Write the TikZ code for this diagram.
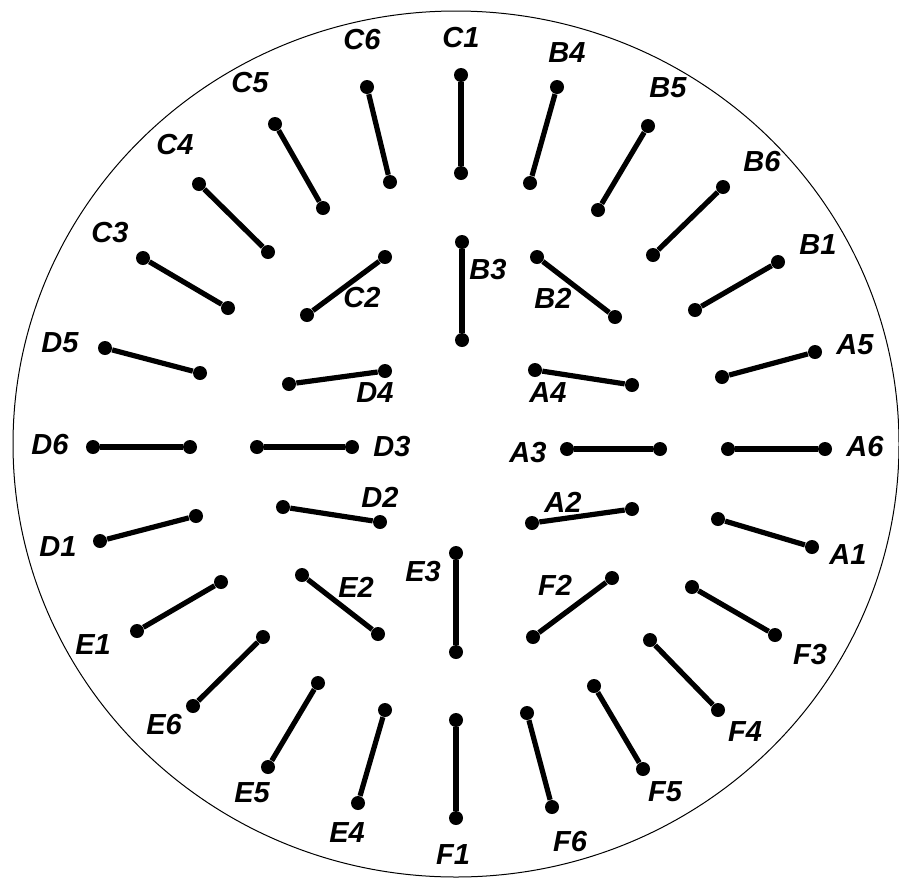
\documentclass[tikz,border=0pt]{standalone}
\usepackage{fontspec}
\setmainfont{Liberation Sans}
\usepackage{tikz}

\begin{document}
\begin{tikzpicture}[
    x=0.5pt,
    y=-0.5pt,
    dot/.style={
        circle,
        fill=black,
        inner sep=0pt,
        minimum size=7pt
    },
    bar/.style={
        line width=2.6pt
    },
    lab/.style={
        font=\fontsize{14.5}{17}\selectfont\bfseries\itshape,
        inner sep=1pt
    }
]

\useasboundingbox (0,0) rectangle (899,879);

\draw[line width=0.5pt] (456,444) ellipse [x radius=443, y radius=433];


% outer ring, top half
\node[dot] (C1a) at (461,75) {};  \node[dot] (C1b) at (461,173) {};
\node[dot] (B4a) at (557,87) {};  \node[dot] (B4b) at (530,183) {};
\node[dot] (B5a) at (648,126) {}; \node[dot] (B5b) at (598,210) {};
\node[dot] (B6a) at (723,187) {}; \node[dot] (B6b) at (653,255) {};
\node[dot] (B1a) at (778,262) {}; \node[dot] (B1b) at (695,310) {};
\node[dot] (A5a) at (815,352) {}; \node[dot] (A5b) at (722,377) {};
\node[dot] (A6a) at (728,449) {}; \node[dot] (A6b) at (825,449) {};
\node[dot] (C6a) at (367,87) {};  \node[dot] (C6b) at (390,182) {};
\node[dot] (C5a) at (275,124) {}; \node[dot] (C5b) at (323,208) {};
\node[dot] (C4a) at (199,184) {}; \node[dot] (C4b) at (268,252) {};
\node[dot] (C3a) at (143,258) {}; \node[dot] (C3b) at (228,308) {};
\node[dot] (D5a) at (105,348) {}; \node[dot] (D5b) at (200,373) {};
\node[dot] (D6a) at (93,447) {};  \node[dot] (D6b) at (190,447) {};

% outer ring, bottom half
\node[dot] (D1a) at (100,541) {}; \node[dot] (D1b) at (196,516) {};
\node[dot] (E1a) at (137,631) {}; \node[dot] (E1b) at (221,582) {};
\node[dot] (E6a) at (193,706) {}; \node[dot] (E6b) at (263,637) {};
\node[dot] (E5a) at (268,767) {}; \node[dot] (E5b) at (318,683) {};
\node[dot] (E4a) at (358,803) {}; \node[dot] (E4b) at (385,710) {};
\node[dot] (F1a) at (456,720) {}; \node[dot] (F1b) at (456,818) {};
\node[dot] (F6a) at (527,713) {}; \node[dot] (F6b) at (552,807) {};
\node[dot] (F5a) at (594,686) {}; \node[dot] (F5b) at (643,769) {};
\node[dot] (F4a) at (650,640) {}; \node[dot] (F4b) at (718,710) {};
\node[dot] (F3a) at (692,587) {}; \node[dot] (F3b) at (775,635) {};
\node[dot] (A1a) at (718,519) {}; \node[dot] (A1b) at (812,547) {};

% inner ring
\node[dot] (B3a) at (462,242) {}; \node[dot] (B3b) at (462,340) {};
\node[dot] (B2a) at (537,257) {}; \node[dot] (B2b) at (615,317) {};
\node[dot] (A4a) at (535,370) {}; \node[dot] (A4b) at (632,385) {};
\node[dot] (A3a) at (567,449) {}; \node[dot] (A3b) at (660,449) {};
\node[dot] (A2a) at (532,523) {}; \node[dot] (A2b) at (632,509) {};
\node[dot] (F2a) at (533,637) {}; \node[dot] (F2b) at (612,578) {};
\node[dot] (E3a) at (456,553) {}; \node[dot] (E3b) at (456,652) {};
\node[dot] (E2a) at (302,575) {}; \node[dot] (E2b) at (378,634) {};
\node[dot] (D2a) at (283,507) {}; \node[dot] (D2b) at (380,522) {};
\node[dot] (D3a) at (257,447) {}; \node[dot] (D3b) at (352,447) {};
\node[dot] (D4a) at (289,384) {}; \node[dot] (D4b) at (385,371) {};
\node[dot] (C2a) at (307,315) {}; \node[dot] (C2b) at (385,257) {};


\draw[bar] (C1a) -- (C1b);  \draw[bar] (B4a) -- (B4b);
\draw[bar] (B5a) -- (B5b);  \draw[bar] (B6a) -- (B6b);
\draw[bar] (B1a) -- (B1b);  \draw[bar] (A5a) -- (A5b);
\draw[bar] (A6a) -- (A6b);  \draw[bar] (C6a) -- (C6b);
\draw[bar] (C5a) -- (C5b);  \draw[bar] (C4a) -- (C4b);
\draw[bar] (C3a) -- (C3b);  \draw[bar] (D5a) -- (D5b);
\draw[bar] (D6a) -- (D6b);  \draw[bar] (D1a) -- (D1b);
\draw[bar] (E1a) -- (E1b);  \draw[bar] (E6a) -- (E6b);
\draw[bar] (E5a) -- (E5b);  \draw[bar] (E4a) -- (E4b);
\draw[bar] (F1a) -- (F1b);  \draw[bar] (F6a) -- (F6b);
\draw[bar] (F5a) -- (F5b);  \draw[bar] (F4a) -- (F4b);
\draw[bar] (F3a) -- (F3b);  \draw[bar] (A1a) -- (A1b);
\draw[bar] (B3a) -- (B3b);  \draw[bar] (B2a) -- (B2b);
\draw[bar] (A4a) -- (A4b);  \draw[bar] (A3a) -- (A3b);
\draw[bar] (A2a) -- (A2b);  \draw[bar] (F2a) -- (F2b);
\draw[bar] (E3a) -- (E3b);  \draw[bar] (E2a) -- (E2b);
\draw[bar] (D2a) -- (D2b);  \draw[bar] (D3a) -- (D3b);
\draw[bar] (D4a) -- (D4b);  \draw[bar] (C2a) -- (C2b);


\node[lab] (C1) at (461,38) {C1};
\node[lab] (B4) at (567,53) {B4};
\node[lab] (B5) at (668,88) {B5};
\node[lab] (B6) at (762,162) {B6};
\node[lab] (B1) at (818,245) {B1};
\node[lab] (A5) at (855,345) {A5};
\node[lab] (A6) at (865,447) {A6};
\node[lab] (C6) at (362,40) {C6};
\node[lab] (C5) at (250,83) {C5};
\node[lab] (C4) at (175,145) {C4};
\node[lab] (C3) at (110,233) {C3};
\node[lab] (D5) at (60,343) {D5};
\node[lab] (D6) at (50,445) {D6};
\node[lab] (D1) at (58,547) {D1};
\node[lab] (E1) at (93,645) {E1};
\node[lab] (E6) at (164,725) {E6};
\node[lab] (E5) at (252,793) {E5};
\node[lab] (E4) at (347,833) {E4};
\node[lab] (F1) at (453,855) {F1};
\node[lab] (F6) at (570,842) {F6};
\node[lab] (F5) at (665,792) {F5};
\node[lab] (F4) at (745,732) {F4};
\node[lab] (F3) at (810,655) {F3};
\node[lab] (A1) at (848,555) {A1};
\node[lab] (B3) at (488,270) {B3};
\node[lab] (B2) at (553,298) {B2};
\node[lab] (A4) at (548,393) {A4};
\node[lab] (A3) at (528,453) {A3};
\node[lab] (A2) at (563,502) {A2};
\node[lab] (F2) at (555,585) {F2};
\node[lab] (E3) at (423,572) {E3};
\node[lab] (E2) at (356,587) {E2};
\node[lab] (D2) at (380,497) {D2};
\node[lab] (D3) at (392,447) {D3};
\node[lab] (D4) at (375,393) {D4};
\node[lab] (C2) at (362,298) {C2};

\end{tikzpicture}
\end{document}
